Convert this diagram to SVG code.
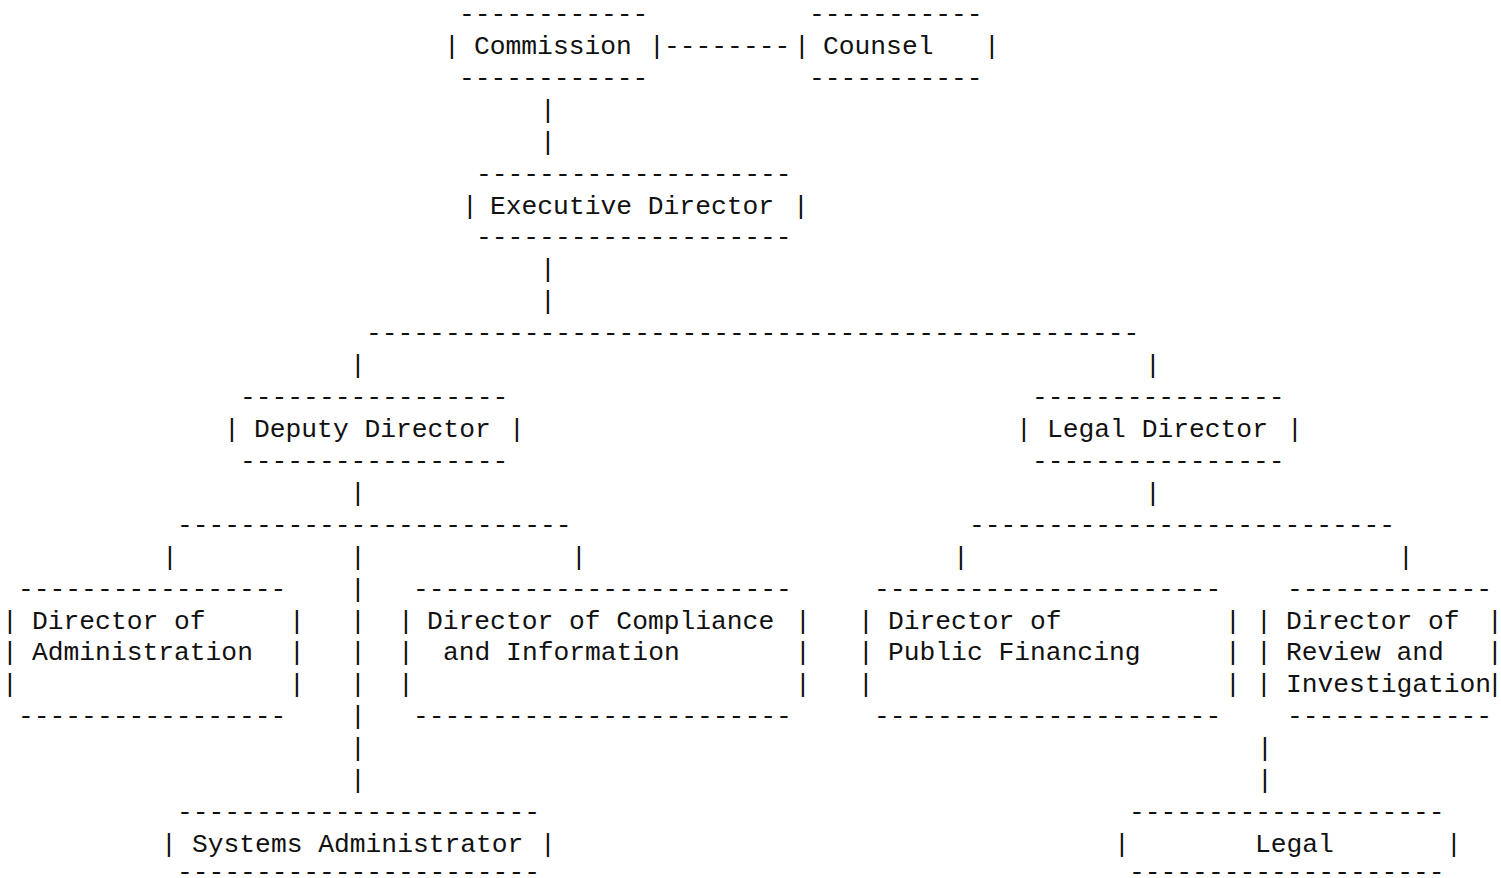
<svg xmlns="http://www.w3.org/2000/svg" width="1501" height="878" viewBox="0 0 1501 878">
<style>
text{font-family:"Liberation Mono","DejaVu Sans Mono",monospace;font-size:26.3px;fill:#111;white-space:pre}
.b{text-anchor:middle}
</style>
<rect width="1501" height="878" fill="#fff"/>
<g id="node-commission">
<text x="459" y="22">------------</text>
<text class="b" x="452" y="54">|</text>
<text x="474" y="54">Commission</text>
<text class="b" x="657" y="54">|</text>
<text x="459" y="86">------------</text>
</g>
<g id="node-counsel">
<text x="809" y="22">-----------</text>
<text class="b" x="802" y="54">|</text>
<text x="823" y="54">Counsel</text>
<text class="b" x="992" y="54">|</text>
<text x="809" y="86">-----------</text>
</g>
<g id="node-executive-director">
<text x="476" y="181.6">--------------------</text>
<text class="b" x="470" y="213.5">|</text>
<text x="490" y="213.5">Executive Director</text>
<text class="b" x="801" y="213.5">|</text>
<text x="476" y="245.4">--------------------</text>
</g>
<g id="node-deputy-director">
<text x="240" y="405">-----------------</text>
<text class="b" x="232" y="437">|</text>
<text x="254" y="437">Deputy Director</text>
<text class="b" x="517" y="437">|</text>
<text x="240" y="468.9">-----------------</text>
</g>
<g id="node-legal-director">
<text x="1032" y="405">----------------</text>
<text class="b" x="1024" y="437">|</text>
<text x="1047" y="437">Legal Director</text>
<text class="b" x="1295" y="437">|</text>
<text x="1032" y="468.9">----------------</text>
</g>
<g id="node-director-administration">
<text x="18" y="596.6">-----------------</text>
<text class="b" x="10" y="628.5">|</text>
<text x="32" y="628.5">Director of</text>
<text class="b" x="297" y="628.5">|</text>
<text class="b" x="10" y="660.4">|</text>
<text x="32" y="660.4">Administration</text>
<text class="b" x="297" y="660.4">|</text>
<text class="b" x="10" y="692.3">|</text>
<text class="b" x="297" y="692.3">|</text>
<text x="18" y="724.2">-----------------</text>
</g>
<g id="node-director-compliance">
<text x="413" y="596.6">------------------------</text>
<text class="b" x="406" y="628.5">|</text>
<text x="427" y="628.5">Director of Compliance</text>
<text class="b" x="803" y="628.5">|</text>
<text class="b" x="406" y="660.4">|</text>
<text x="443" y="660.4">and Information</text>
<text class="b" x="803" y="660.4">|</text>
<text class="b" x="406" y="692.3">|</text>
<text class="b" x="803" y="692.3">|</text>
<text x="413" y="724.2">------------------------</text>
</g>
<g id="node-director-public-financing">
<text x="874" y="596.6">----------------------</text>
<text class="b" x="866" y="628.5">|</text>
<text x="888" y="628.5">Director of</text>
<text class="b" x="1233" y="628.5">|</text>
<text class="b" x="866" y="660.4">|</text>
<text x="888" y="660.4">Public Financing</text>
<text class="b" x="1233" y="660.4">|</text>
<text class="b" x="866" y="692.3">|</text>
<text class="b" x="1233" y="692.3">|</text>
<text x="874" y="724.2">----------------------</text>
</g>
<g id="node-director-review">
<text x="1287" y="596.6">-------------</text>
<text class="b" x="1264" y="628.5">|</text>
<text x="1286" y="628.5">Director of</text>
<text class="b" x="1495" y="628.5">|</text>
<text class="b" x="1264" y="660.4">|</text>
<text x="1286" y="660.4">Review and</text>
<text class="b" x="1495" y="660.4">|</text>
<text class="b" x="1264" y="692.3">|</text>
<text x="1286" y="692.3">Investigation</text>
<text class="b" x="1495" y="692.3">|</text>
<text x="1287" y="724.2">-------------</text>
</g>
<g id="node-systems-administrator">
<text x="177" y="820">-----------------------</text>
<text class="b" x="169" y="851.9">|</text>
<text x="192" y="851.9">Systems Administrator</text>
<text class="b" x="548" y="851.9">|</text>
<text x="177" y="879.5">-----------------------</text>
</g>
<g id="node-legal">
<text x="1129" y="820">--------------------</text>
<text class="b" x="1122" y="851.9">|</text>
<text x="1255" y="851.9">Legal</text>
<text class="b" x="1454" y="851.9">|</text>
<text x="1129" y="879.5">--------------------</text>
</g>
<g id="connectors">
<text x="664" y="54">--------</text>
<text class="b" x="548" y="117.8">|</text>
<text class="b" x="548" y="149.7">|</text>
<text class="b" x="548" y="277.4">|</text>
<text class="b" x="548" y="309.3">|</text>
<text x="366" y="341.2">-------------------------------------------------</text>
<text class="b" x="358" y="373.1">|</text>
<text class="b" x="1153" y="373.1">|</text>
<text class="b" x="358" y="500.8">|</text>
<text class="b" x="1153" y="500.8">|</text>
<text x="177" y="532.7">-------------------------</text>
<text x="969" y="532.7">---------------------------</text>
<text class="b" x="170" y="564.6">|</text>
<text class="b" x="358" y="564.6">|</text>
<text class="b" x="579" y="564.6">|</text>
<text class="b" x="961" y="564.6">|</text>
<text class="b" x="1406" y="564.6">|</text>
<text class="b" x="358" y="596.6">|</text>
<text class="b" x="358" y="628.5">|</text>
<text class="b" x="358" y="660.4">|</text>
<text class="b" x="358" y="692.3">|</text>
<text class="b" x="358" y="724.2">|</text>
<text class="b" x="358" y="756.2">|</text>
<text class="b" x="358" y="788.1">|</text>
<text class="b" x="1265" y="756.2">|</text>
<text class="b" x="1265" y="788.1">|</text>
</g>
</svg>
